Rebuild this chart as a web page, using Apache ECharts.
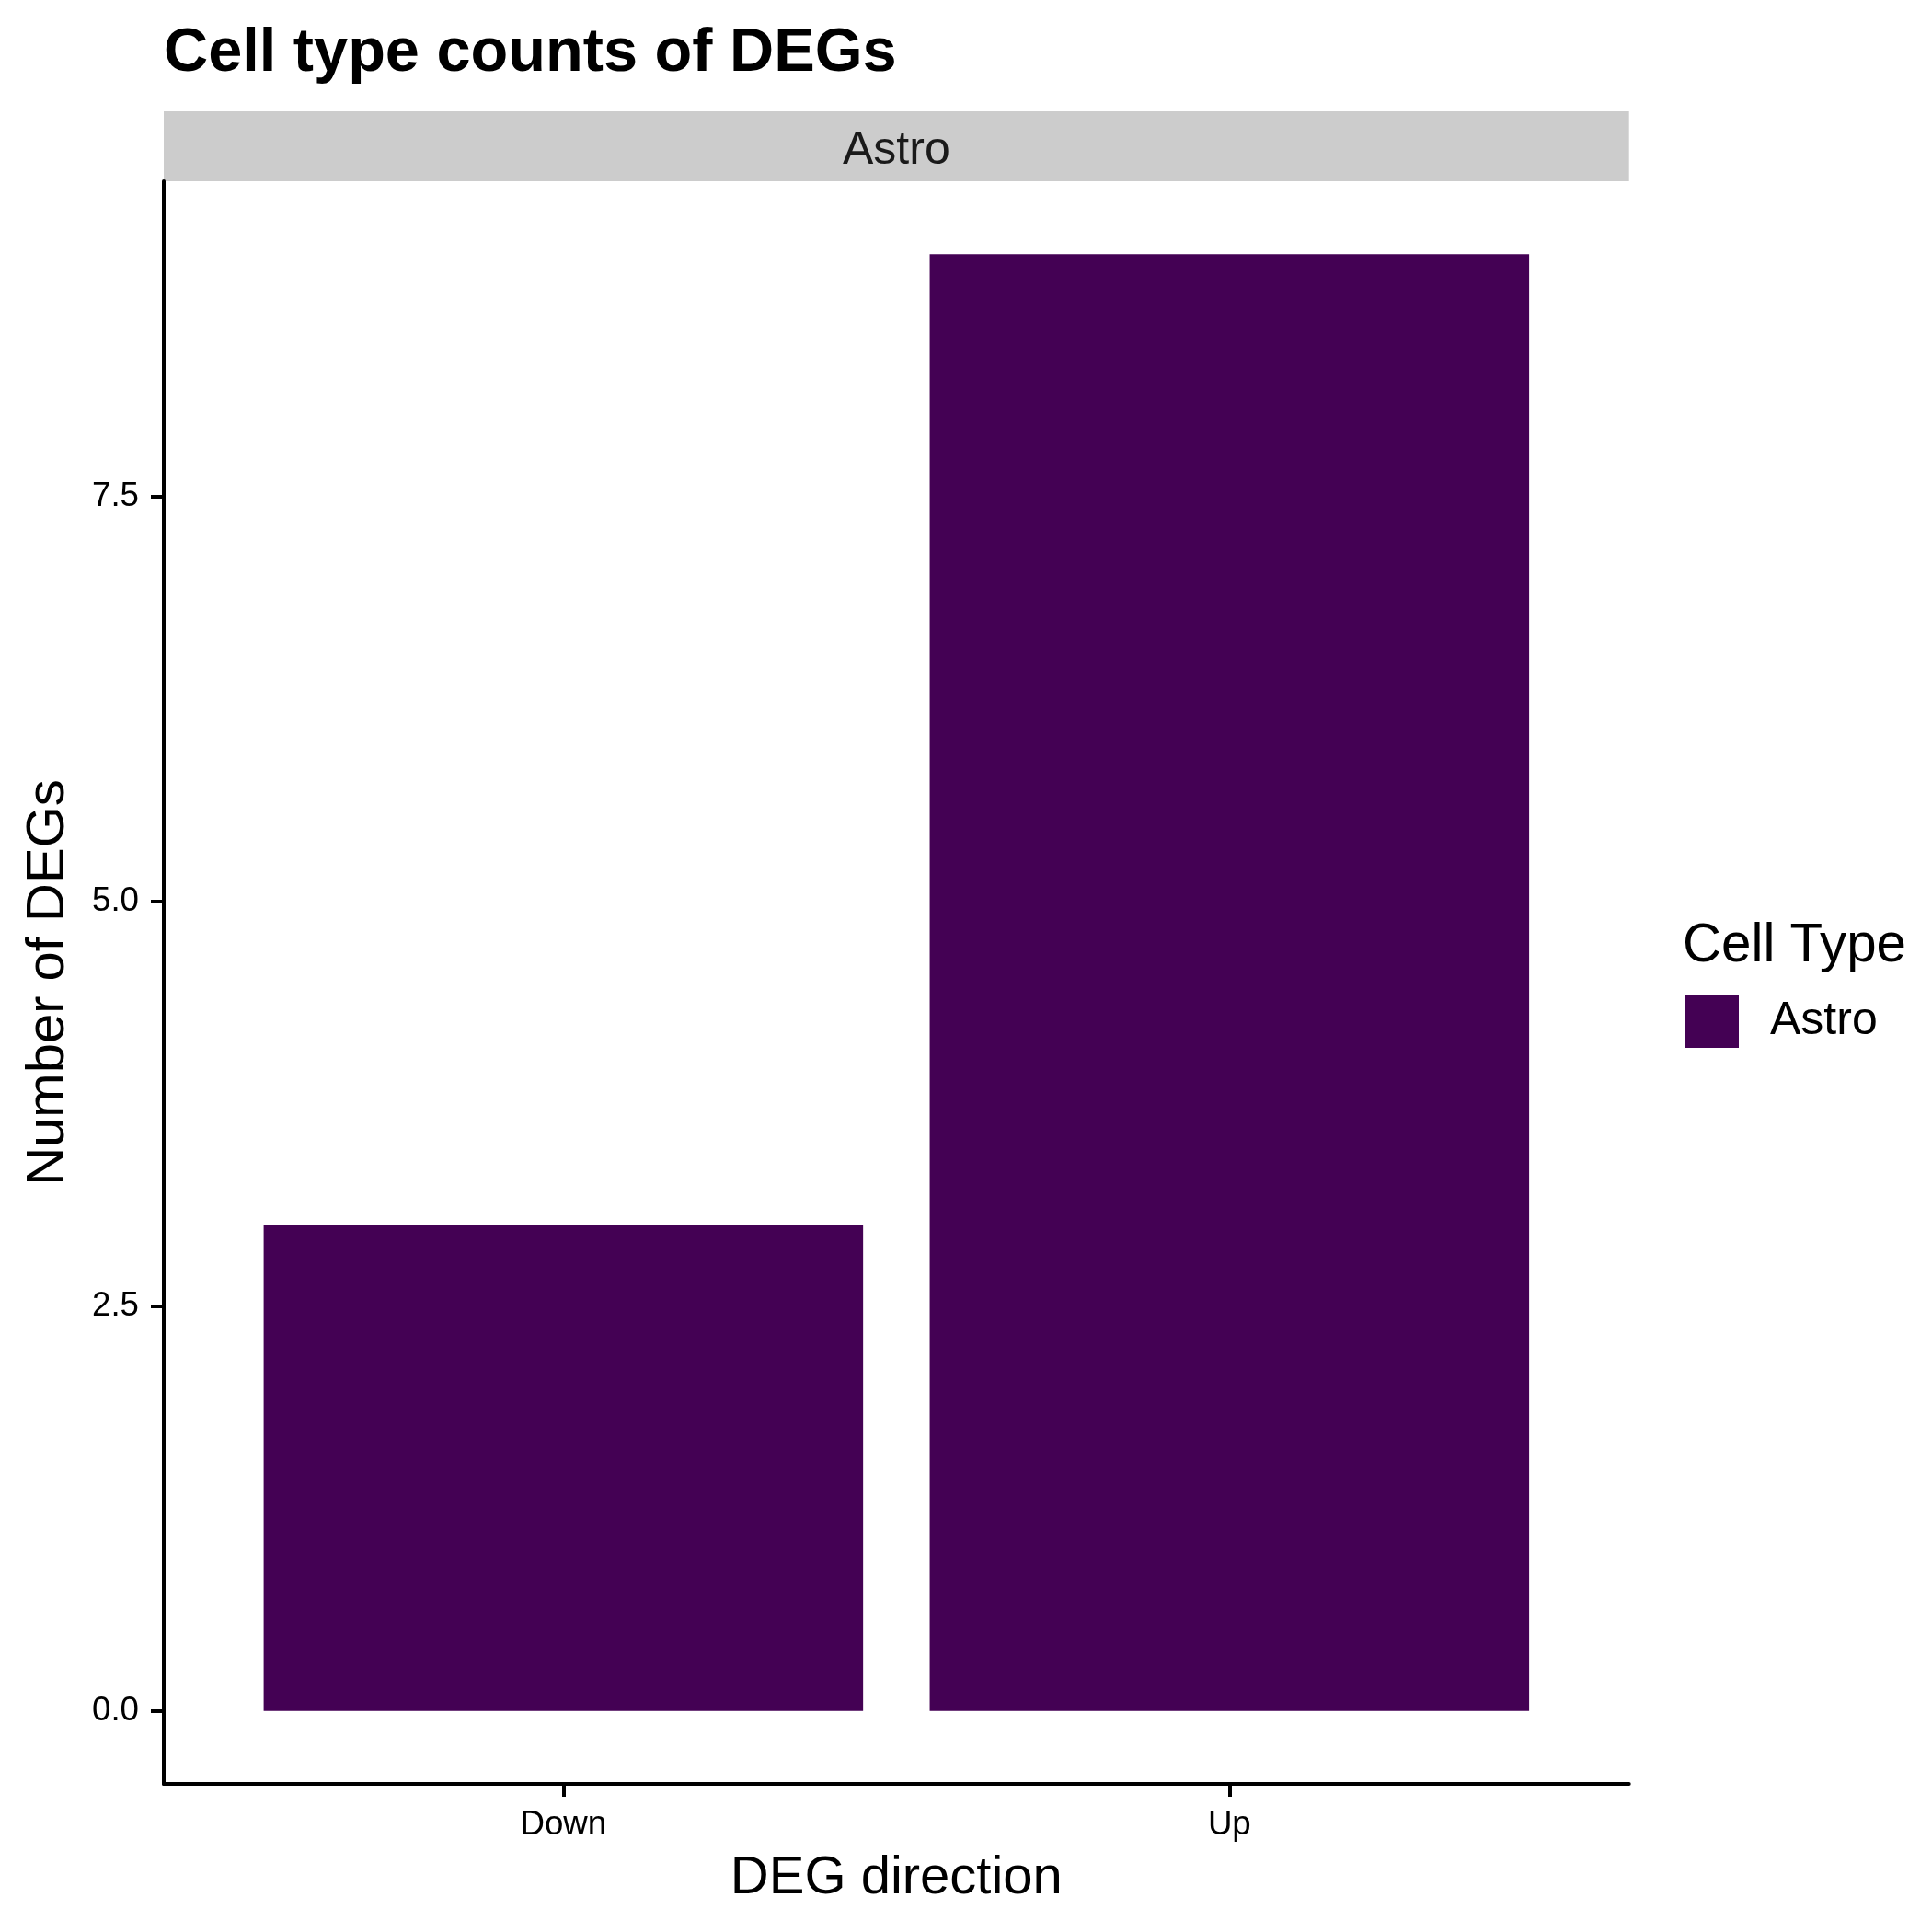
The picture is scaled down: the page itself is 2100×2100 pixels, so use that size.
<!DOCTYPE html>
<html>
<head>
<meta charset="utf-8">
<title>Cell type counts of DEGs</title>
<script src="https://cdn.jsdelivr.net/npm/echarts@6/dist/echarts.min.js"></script>
<style>
  html, body { margin: 0; padding: 0; background: #fff; }
  #chart { width: 2100px; height: 2100px; }
</style>
</head>
<body>
<div id="chart"></div>
<script>
// data
const directions = ['Down', 'Up'];
const astroCounts = [3, 9];
const yTicks = [0, 2.5, 5, 7.5];
const cellTypes = ['Astro'];

const FONT = '"Liberation Sans", Arial, Helvetica, sans-serif';
const BAR_COLOR = '#440154';

// panel edges (px)
const panelLeft = 178, panelRight = 1770.7, panelTop = 197, panelBottom = 1939;
// discrete x scale runs from 0.4 to 2.6 (ggplot expansion)
const unit = (panelRight - panelLeft) / 2.2;

const chart = echarts.init(document.getElementById('chart'));

chart.setOption({
  animation: false,
  backgroundColor: '#ffffff',
  textStyle: { fontFamily: FONT },
  grid: [
    { left: panelLeft, top: panelTop, width: panelRight - panelLeft, height: panelBottom - panelTop },
    { left: panelLeft + 0.1 * unit, top: panelTop, width: 2 * unit, height: panelBottom - panelTop }
  ],
  xAxis: [
    {
      // frame axis: only the line
      gridIndex: 0, type: 'value', min: 0.4, max: 2.6,
      axisLine: { show: true, onZero: false, lineStyle: { color: '#000', width: 4 } },
      axisTick: { show: false }, axisLabel: { show: false }, splitLine: { show: false },
      name: 'DEG direction', nameLocation: 'middle', nameGap: 74,
      nameTextStyle: { fontSize: 58, color: '#000', fontFamily: FONT }
    },
    {
      gridIndex: 1, type: 'category', data: directions,
      axisLine: { show: false, onZero: false },
      axisTick: { show: true, alignWithLabel: true, length: 14, lineStyle: { color: '#000', width: 4 } },
      axisLabel: { fontSize: 36.7, color: '#000', margin: 26, fontFamily: FONT },
      splitLine: { show: false }
    }
  ],
  yAxis: [
    {
      gridIndex: 0, type: 'value', min: -0.45, max: 9.45,
      axisLine: { show: true, onZero: false, lineStyle: { color: '#000', width: 4 } },
      axisTick: { show: true, length: 14, customValues: yTicks, lineStyle: { color: '#000', width: 4 } },
      axisLabel: {
        fontSize: 36.7, color: '#000', margin: 27, fontFamily: FONT,
        customValues: yTicks,
        formatter: v => Number(v).toFixed(1)
      },
      splitLine: { show: false },
      name: 'Number of DEGs', nameLocation: 'middle', nameGap: 96, nameRotate: 90,
      nameTextStyle: { fontSize: 58, color: '#000', fontFamily: FONT }
    },
    {
      gridIndex: 1, type: 'value', min: -0.45, max: 9.45, show: false
    }
  ],
  legend: {
    data: cellTypes,
    left: 1832, top: 1081,
    orient: 'vertical',
    icon: 'rect',
    itemWidth: 58, itemHeight: 58,
    padding: 0,
    selectedMode: false,
    textStyle: { fontSize: 50, color: '#000', fontFamily: FONT, padding: [5, 0, 0, 29] }
  },
  graphic: [
    {
      type: 'text', x: 178, y: 59,
      style: { text: 'Cell type counts of DEGs', font: 'bold 66.7px ' + FONT, fill: '#000',
               align: 'left', textAlign: 'left', verticalAlign: 'middle', textVerticalAlign: 'middle' }
    },
    {
      type: 'rect', shape: { x: panelLeft, y: 121, width: panelRight - panelLeft, height: 76 },
      style: { fill: '#cccccc' }
    },
    {
      type: 'text', x: (panelLeft + panelRight) / 2, y: 164,
      style: { text: 'Astro', font: '50px ' + FONT, fill: '#1a1a1a',
               align: 'center', textAlign: 'center', verticalAlign: 'middle', textVerticalAlign: 'middle' }
    },
    {
      type: 'text', x: 1829, y: 1029,
      style: { text: 'Cell Type', font: '58.3px ' + FONT, fill: '#000',
               align: 'left', textAlign: 'left', verticalAlign: 'middle', textVerticalAlign: 'middle' }
    }
  ],
  series: [
    {
      name: 'Astro', type: 'bar', xAxisIndex: 1, yAxisIndex: 1,
      data: astroCounts, barWidth: '90%',
      itemStyle: { color: BAR_COLOR }
    }
  ]
});
</script>
</body>
</html>
